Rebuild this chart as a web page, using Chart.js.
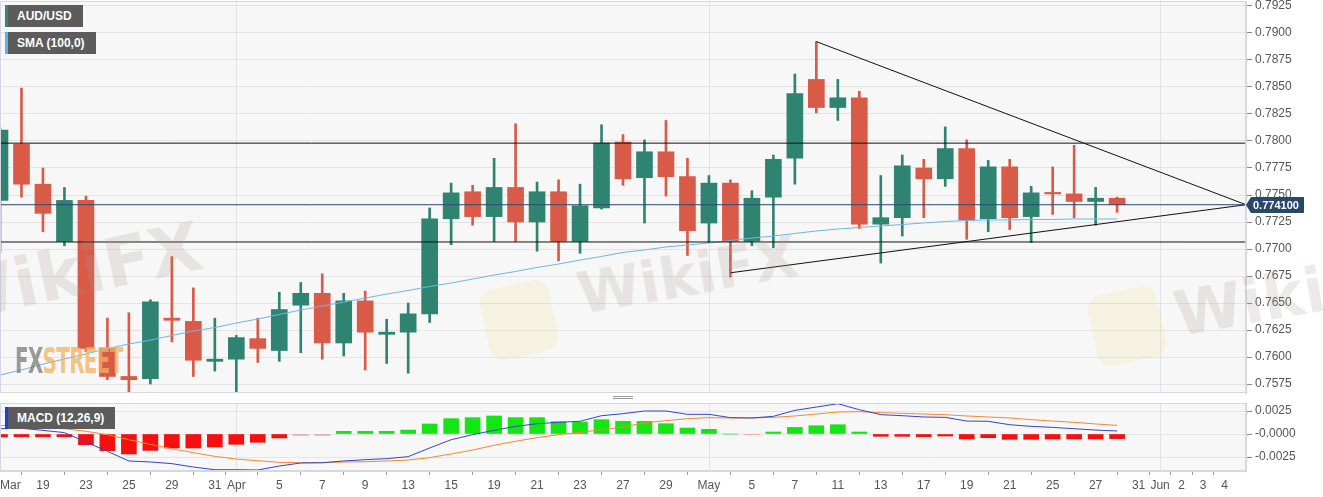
<!DOCTYPE html>
<html>
<head>
<meta charset="utf-8">
<script src="https://cdn.jsdelivr.net/npm/chart.js@4.4.0/dist/chart.umd.min.js"></script>
<style>
  body { margin: 0; background: #fff; font-family: "Liberation Sans", Arial, sans-serif; }
  #wrap { position: relative; width: 1323px; height: 497px; overflow: hidden; }
  canvas { position: absolute; left: 0; }
  .tag { position: absolute; left: 5px; height: 22px; line-height: 22px; background: #5c5c5c; color: #fff;
         font-size: 12px; font-weight: bold; padding-left: 9px; border-left: 3px solid; box-sizing: border-box; }
  .wm { position: absolute; pointer-events: none; font-family: "DejaVu Sans", sans-serif; font-weight: bold;
        color: rgba(170, 150, 150, 0.2); transform-origin: left bottom; white-space: nowrap; line-height: 1; }
  .logo { position: absolute; pointer-events: none; border-radius: 14px; background: rgba(245, 215, 120, 0.16);
          transform: rotate(-12deg); }
  #fxs { position: absolute; left: 15px; top: 341px; font-family: "DejaVu Sans Condensed", "DejaVu Sans", sans-serif;
         font-weight: bold; font-size: 35px; letter-spacing: -1px; transform: scaleX(0.63); transform-origin: left top;
         opacity: 0.75; white-space: nowrap; pointer-events: none; }
  #grip { position: absolute; left: 613px; top: 396px; width: 20px; height: 1px;
          border-top: 1px solid #999; border-bottom: 1px solid #999; }
</style>
</head>
<body>
<div id="wrap">
  <canvas id="main" width="1323" height="396" style="top:0"></canvas>
  <canvas id="macd" width="1323" height="101" style="top:396px"></canvas>

  <div class="logo" style="left:484px;top:284px;width:70px;height:72px"></div>
  <div class="logo" style="left:1092px;top:290px;width:70px;height:72px"></div>
  <div class="wm" style="left:-52px;top:266px;font-size:68px;transform:rotate(-12deg)">WikiFX</div>
  <div class="wm" style="left:583px;top:266px;font-size:57px;transform:rotate(-10deg)">WikiFX</div>
  <div class="wm" style="left:1180px;top:284px;font-size:62px;transform:rotate(-10deg)">WikiFX</div>
  <div id="fxs"><span style="color:#7a7a7a">FX</span><span style="color:#f0b25c">STREET</span></div>

  <div class="tag" style="top:5px;width:78px;border-color:#2e8a72">AUD/USD</div>
  <div class="tag" style="top:32px;width:91px;border-color:#5db3ea">SMA (100,0)</div>
  <div class="tag" style="top:407px;width:110px;border-color:#1c3fe0">MACD (12,26,9)</div>
  <div id="grip"></div>
</div>

<script>
// x positions are trading-day indexes, Mar 17 2021 = 0 ... May 28 = 52, axis runs on to Jun 7 = 58
const tickIdx = [0, 2, 4, 6, 8, 10, 11, 13, 15, 17, 19, 21, 23, 25, 27, 29, 31, 33, 35, 37, 39, 41, 43, 45, 47, 49, 51, 53, 54, 55, 56, 57];
const tickText = ['Mar', '19', '23', '25', '29', '31', 'Apr', '5', '7', '9', '13', '15', '19', '21', '23', '27', '29',
  'May', '5', '7', '11', '13', '17', '19', '21', '25', '27', '31', 'Jun', '2', '3', '4'];
const monthIdx = [11, 33, 54];

// AUD/USD daily candles
const openP = [0.7745, 0.7797, 0.7760, 0.7707, 0.7745, 0.7608, 0.7582, 0.7580, 0.7636, 0.7633,
  0.7596, 0.7598, 0.7617, 0.7606, 0.7648, 0.7659, 0.7613, 0.7652, 0.7621, 0.7623,
  0.7640, 0.7728, 0.7753, 0.7730, 0.7757, 0.7725, 0.7753, 0.7707, 0.7738, 0.7799,
  0.7766, 0.7790, 0.7767, 0.7724, 0.7761, 0.7707, 0.7748, 0.7784, 0.7857, 0.7831,
  0.7840, 0.7723, 0.7729, 0.7775, 0.7765, 0.7793, 0.7728, 0.7776, 0.7730, 0.7752,
  0.7751, 0.7744, 0.7747];
const highP = [0.7812, 0.7849, 0.7775, 0.7757, 0.7749, 0.7636, 0.7641, 0.7653, 0.7693, 0.7664,
  0.7636, 0.7620, 0.7636, 0.7660, 0.7669, 0.7677, 0.7659, 0.7661, 0.7635, 0.7650,
  0.7738, 0.7761, 0.7759, 0.7784, 0.7816, 0.7762, 0.7764, 0.7760, 0.7815, 0.7806,
  0.7801, 0.7819, 0.7784, 0.7768, 0.7764, 0.7754, 0.7787, 0.7862, 0.7892, 0.7857,
  0.7846, 0.7768, 0.7787, 0.7783, 0.7813, 0.7801, 0.7782, 0.7783, 0.7758, 0.7776,
  0.7796, 0.7757, 0.7748];
const lowP = [0.7697, 0.7748, 0.7716, 0.7703, 0.7605, 0.7579, 0.7564, 0.7575, 0.7614, 0.7582,
  0.7587, 0.7564, 0.7595, 0.7596, 0.7604, 0.7598, 0.7601, 0.7588, 0.7594, 0.7585,
  0.7632, 0.7704, 0.7722, 0.7707, 0.7707, 0.7698, 0.7689, 0.7696, 0.7737, 0.7759,
  0.7724, 0.7749, 0.7694, 0.7706, 0.7674, 0.7703, 0.7701, 0.7760, 0.7826, 0.7819,
  0.7719, 0.7687, 0.7712, 0.7729, 0.7758, 0.7709, 0.7716, 0.7718, 0.7706, 0.7732,
  0.7729, 0.7722, 0.7734];
const closeP = [0.7810, 0.7760, 0.7733, 0.7745, 0.7608, 0.7582, 0.7579, 0.7651, 0.7634, 0.7597,
  0.7598, 0.7618, 0.7608, 0.7644, 0.7659, 0.7613, 0.7652, 0.7623, 0.7623, 0.7640,
  0.7728, 0.7752, 0.7730, 0.7757, 0.7725, 0.7753, 0.7707, 0.7740, 0.7798, 0.7765,
  0.7790, 0.7767, 0.7717, 0.7761, 0.7707, 0.7747, 0.7783, 0.7844, 0.7831, 0.7840,
  0.7723, 0.7729, 0.7777, 0.7765, 0.7793, 0.7727, 0.7776, 0.7729, 0.7752, 0.7751,
  0.7744, 0.7747, 0.7741];

// SMA (100)
const sma100 = [0.75833, 0.75880, 0.75935, 0.75982, 0.76028, 0.76079, 0.76120, 0.76157, 0.76199, 0.76241,
  0.76273, 0.76315, 0.76352, 0.76394, 0.76435, 0.76472, 0.76509, 0.76546, 0.76583, 0.76616,
  0.76653, 0.76685, 0.76722, 0.76759, 0.76792, 0.76829, 0.76861, 0.76898, 0.76931, 0.76968,
  0.76991, 0.77019, 0.77037, 0.77056, 0.77079, 0.77102, 0.77120, 0.77144, 0.77167, 0.77185,
  0.77199, 0.77213, 0.77227, 0.77241, 0.77255, 0.77264, 0.77269, 0.77269, 0.77273, 0.77273,
  0.77278, 0.77278, 0.77278];

// drawn levels: resistance, support, last price
const levels = [0.7798, 0.77065];
const lastPrice = 0.7741;
const upperTrend = [[38, 0.7892], [58, 0.7741]];
const lowerTrend = [[34, 0.7678], [58, 0.7741]];

// MACD (12,26,9)
const macdLine = [0.00058, 0.00062, 0.00040, 0.00015, -0.00087, -0.00188, -0.00293, -0.00304, -0.00322, -0.00359,
  -0.00388, -0.00388, -0.00391, -0.00348, -0.00315, -0.00312, -0.00293, -0.00279, -0.00268, -0.00246,
  -0.00152, -0.00062, -0.00007, 0.00040, 0.00083, 0.00112, 0.00127, 0.00138, 0.00199, 0.00221,
  0.00250, 0.00250, 0.00214, 0.00214, 0.00178, 0.00174, 0.00192, 0.00257, 0.00293, 0.00329,
  0.00264, 0.00210, 0.00199, 0.00185, 0.00181, 0.00141, 0.00138, 0.00101, 0.00083, 0.00072,
  0.00058, 0.00043, 0.00033];
const signalLine = [0.00094, 0.00080, 0.00069, 0.00058, 0.00029, -0.00007, -0.00062, -0.00112, -0.00160, -0.00203,
  -0.00243, -0.00272, -0.00290, -0.00308, -0.00312, -0.00312, -0.00304, -0.00301, -0.00293, -0.00283,
  -0.00257, -0.00217, -0.00174, -0.00123, -0.00079, -0.00040, -0.00007, 0.00018, 0.00047, 0.00076,
  0.00120, 0.00145, 0.00167, 0.00178, 0.00174, 0.00174, 0.00181, 0.00196, 0.00217, 0.00239,
  0.00243, 0.00232, 0.00225, 0.00217, 0.00210, 0.00196, 0.00185, 0.00174, 0.00156, 0.00141,
  0.00127, 0.00109, 0.00094];
const macdHist = [-0.00033, -0.00030, -0.00030, -0.00030, -0.00116, -0.00181, -0.00217, -0.00178, -0.00152, -0.00152,
  -0.00141, -0.00112, -0.00090, -0.00043, -0.00015, -0.00015, 0.00029, 0.00029, 0.00029, 0.00043,
  0.00109, 0.00167, 0.00178, 0.00196, 0.00178, 0.00178, 0.00134, 0.00130, 0.00156, 0.00138,
  0.00138, 0.00112, 0.00065, 0.00051, 0, -0.00003, 0.00022, 0.00072, 0.00090, 0.00101,
  0.00022, -0.00025, -0.00025, -0.00029, -0.00022, -0.00054, -0.00040, -0.00058, -0.00058, -0.00054,
  -0.00054, -0.00054, -0.00050];

const FONT = '"Liberation Sans", Arial, sans-serif';
Chart.defaults.font.family = FONT;
Chart.defaults.font.size = 12;
Chart.defaults.color = '#555';

const GREEN = '#2f8471';
const RED = '#d95a47';
const candleColor = ctx => closeP[ctx.dataIndex] >= openP[ctx.dataIndex] ? GREEN : RED;
const xy = (arr) => arr.map((v, i) => ({ x: i, y: v }));
const seg = (pts) => pts.map(p => ({ x: p[0], y: p[1] }));

// light plot background, month grid lines and frame
const plotFrame = {
  id: 'plotFrame',
  beforeDraw(chart) {
    const { ctx, chartArea: a } = chart;
    ctx.save();
    ctx.fillStyle = '#f7f7f7';
    ctx.fillRect(a.left, a.top, a.right - a.left, a.bottom - a.top);
    ctx.restore();
  },
  beforeDatasetsDraw(chart) {
    const { ctx, chartArea: a } = chart;
    const xs = chart.scales.x;
    ctx.save();
    ctx.strokeStyle = '#e2e2e6';
    ctx.lineWidth = 1;
    monthIdx.forEach(m => {
      const px = Math.round(xs.getPixelForValue(m)) + 0.5;
      ctx.beginPath();
      ctx.moveTo(px, a.top);
      ctx.lineTo(px, a.bottom);
      ctx.stroke();
    });
    ctx.restore();
  },
  afterDraw(chart) {
    const { ctx, chartArea: a } = chart;
    ctx.save();
    ctx.strokeStyle = '#d6d6e4';
    ctx.lineWidth = 1;
    ctx.strokeRect(a.left + 0.5, a.top + 0.5, a.right - a.left - 1, a.bottom - a.top - 1);
    ctx.restore();
  }
};

// last price tag on the right axis
const priceTag = {
  id: 'priceTag',
  afterDraw(chart) {
    const { ctx, chartArea: a } = chart;
    const y = Math.round(chart.scales.y.getPixelForValue(lastPrice));
    const x = a.right;
    ctx.save();
    ctx.fillStyle = '#28476b';
    ctx.beginPath();
    ctx.moveTo(x, y);
    ctx.lineTo(x + 5, y - 8);
    ctx.lineTo(x + 58, y - 8);
    ctx.lineTo(x + 58, y + 8);
    ctx.lineTo(x + 5, y + 8);
    ctx.closePath();
    ctx.fill();
    ctx.fillStyle = '#fff';
    ctx.font = 'bold 11px ' + FONT;
    ctx.textBaseline = 'middle';
    ctx.fillText(lastPrice.toFixed(6), x + 7, y + 1);
    ctx.restore();
  }
};

const lineDs = (data, color, order) => ({
  type: 'line', data, borderColor: color, borderWidth: 1, pointRadius: 0, tension: 0, order
});

new Chart(document.getElementById('main'), {
  type: 'bar',
  data: {
    datasets: [
      lineDs(seg([[0, levels[0]], [58, levels[0]]]), '#111', 1),
      lineDs(seg([[0, levels[1]], [58, levels[1]]]), '#111', 1),
      lineDs(seg([[0, lastPrice], [58, lastPrice]]), '#2a4a70', 1),
      lineDs(seg(upperTrend), '#111', 1),
      lineDs(seg(lowerTrend), '#111', 1),
      lineDs(xy(sma100), '#6fb7e6', 2),
      {
        label: 'wick', data: lowP.map((l, i) => ({ x: i, y: [l, highP[i]] })),
        backgroundColor: candleColor, barThickness: 2, maxBarThickness: 2, grouped: false, order: 6
      },
      {
        label: 'body', data: openP.map((o, i) => ({ x: i, y: [o, closeP[i]] })),
        backgroundColor: candleColor, barThickness: 16, maxBarThickness: 16, minBarLength: 1.5,
        grouped: false, order: 5
      }
    ]
  },
  options: {
    responsive: false, animation: false, devicePixelRatio: 1,
    layout: { padding: { top: 1, bottom: 3, left: 0, right: 0 } },
    plugins: { legend: { display: false }, tooltip: { enabled: false } },
    scales: {
      x: {
        type: 'linear', min: 0, max: 58, offset: false,
        afterFit: s => { s.height = 0; s.paddingLeft = 0; s.paddingRight = 0; },
        ticks: { display: false },
        grid: { display: false },
        border: { display: false }
      },
      y: {
        position: 'right', min: 0.75667, max: 0.79296,
        afterFit: s => { s.width = 77; s.paddingTop = 0; s.paddingBottom = 0; },
        ticks: { stepSize: 0.0025, includeBounds: false, padding: 3, callback: v => v.toFixed(4) },
        grid: { color: '#e4e4e4', tickColor: '#888', tickLength: 6 },
        border: { color: '#d6d6e4' }
      }
    }
  },
  plugins: [plotFrame, priceTag]
});

new Chart(document.getElementById('macd'), {
  type: 'bar',
  data: {
    datasets: [
      lineDs(xy(macdLine), '#3346cc', 1),
      lineDs(xy(signalLine), '#f08a32', 1),
      {
        label: 'hist', data: xy(macdHist), barThickness: 15, order: 5,
        backgroundColor: ctx => {
          const v = macdHist[ctx.dataIndex];
          if (v >= 0) return '#14e614';
          return v > -0.0002 ? '#f0a3a3' : '#f50f0f';
        }
      }
    ]
  },
  options: {
    responsive: false, animation: false, devicePixelRatio: 1,
    layout: { padding: { top: 7, bottom: 0, left: 0, right: 0 } },
    plugins: { legend: { display: false }, tooltip: { enabled: false } },
    scales: {
      x: {
        type: 'linear', min: 0, max: 58, offset: false,
        afterBuildTicks: s => { s.ticks = tickIdx.concat([58]).map(v => ({ value: v })); },
        afterFit: s => { s.height = 26; s.paddingLeft = 0; s.paddingRight = 0; },
        ticks: {
          autoSkip: false, maxRotation: 0, align: 'inner', padding: 3,
          callback: (v, i) => tickText[i] !== undefined ? tickText[i] : ''
        },
        grid: {
          drawOnChartArea: false,
          tickColor: c => c.tick && c.tick.value < 58 ? '#999' : 'rgba(0,0,0,0)',
          tickLength: 4
        },
        border: { color: '#d6d6e4' }
      },
      y: {
        position: 'right', min: -0.00402, max: 0.00337,
        afterFit: s => { s.width = 77; s.paddingTop = 0; s.paddingBottom = 0; },
        ticks: {
          stepSize: 0.0025, includeBounds: false, padding: 3,
          callback: v => Math.abs(v) < 1e-9 ? '-0.0000' : v.toFixed(4)
        },
        grid: { color: '#e4e4e4', tickColor: '#888', tickLength: 6 },
        border: { color: '#d6d6e4' }
      }
    }
  },
  plugins: [plotFrame]
});
</script>
</body>
</html>
